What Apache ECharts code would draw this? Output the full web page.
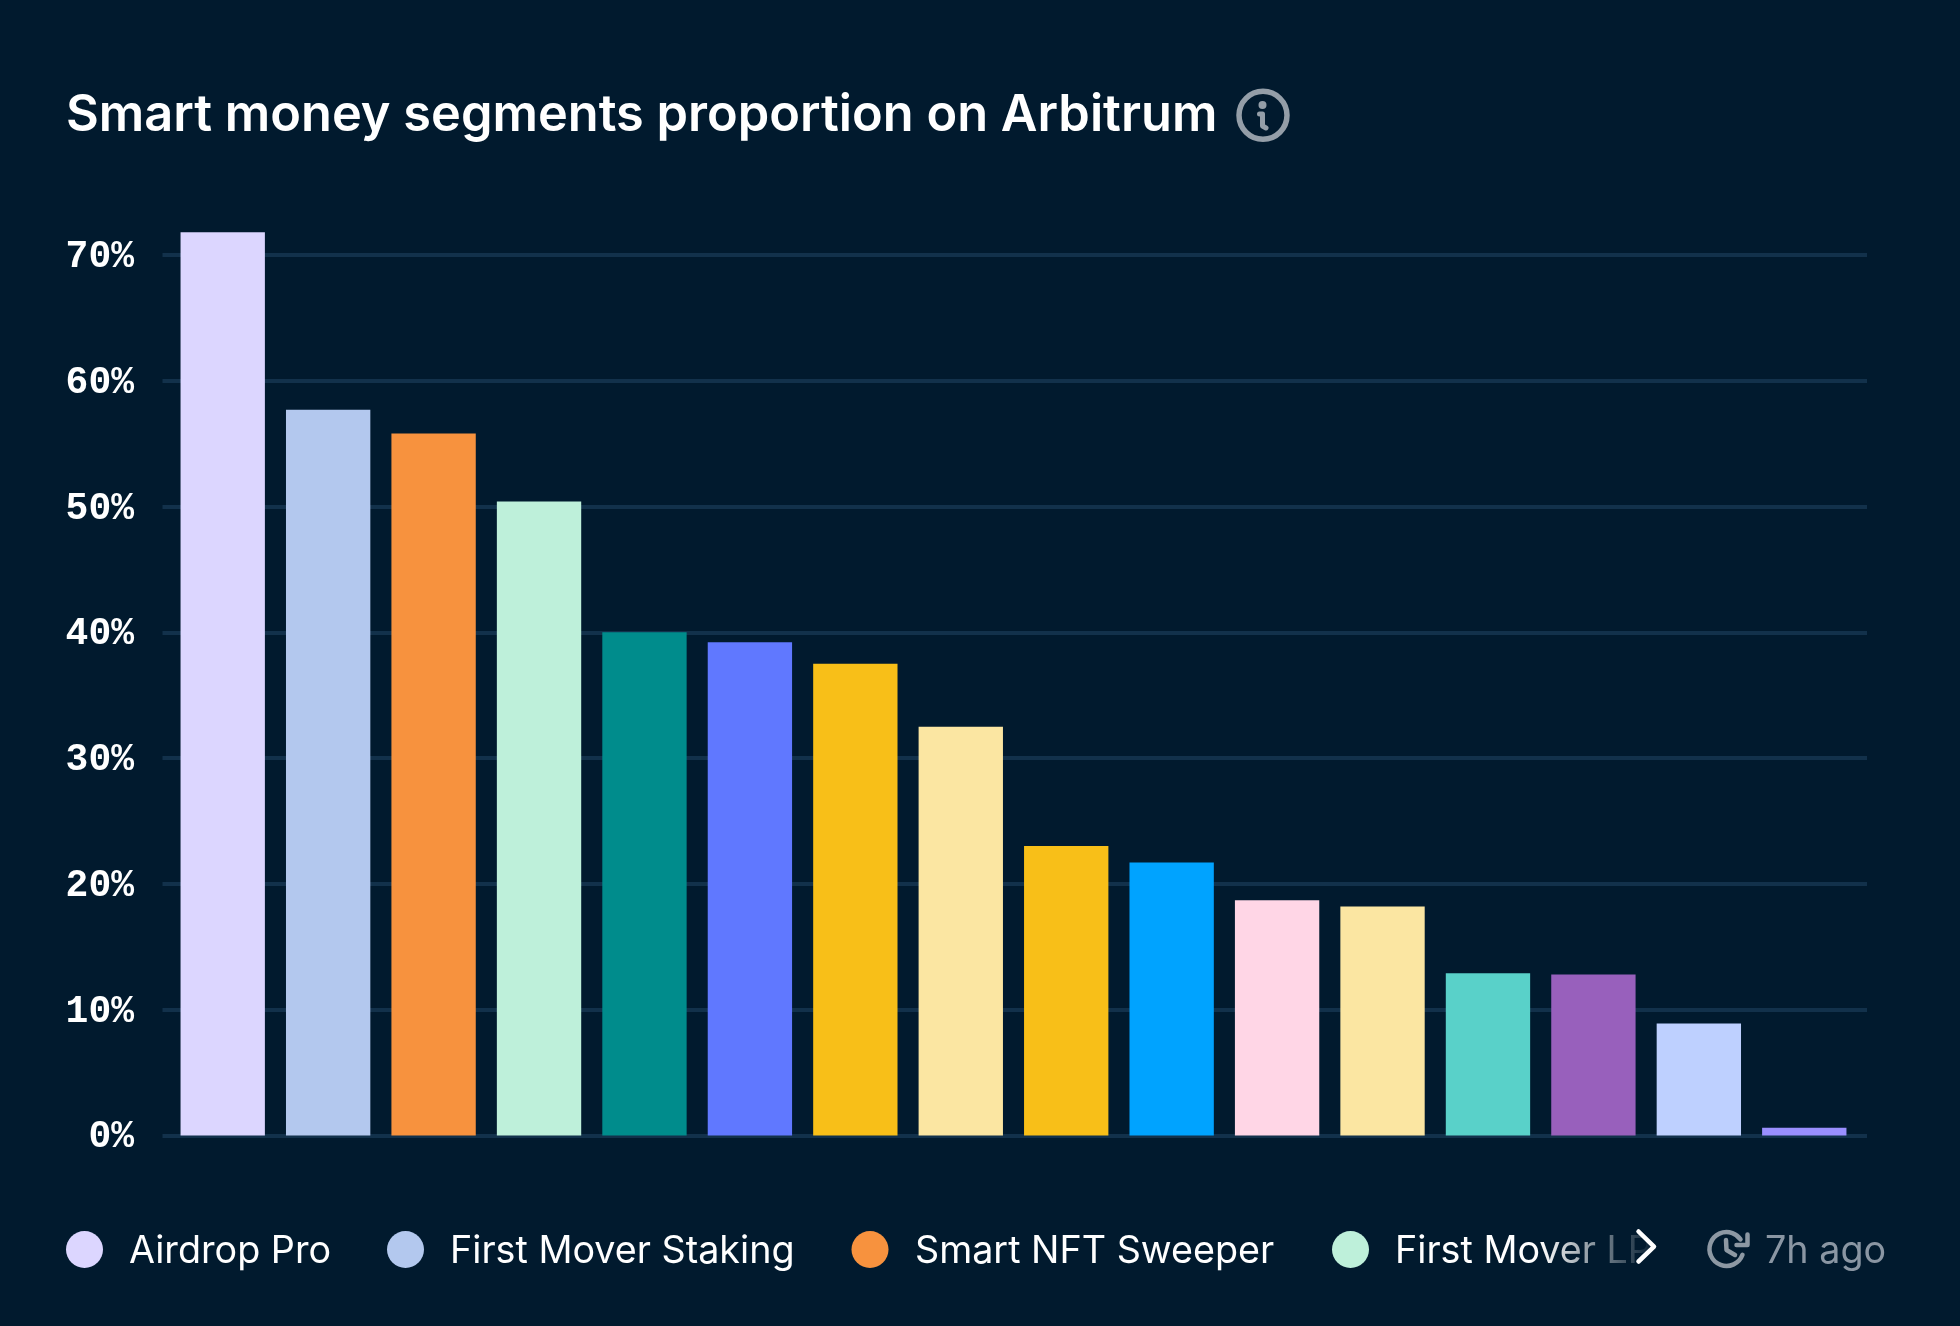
<!DOCTYPE html>
<html lang="en">
<head>
    <meta charset="UTF-8">
    <title>Smart money segments</title>
    <style>
        html, body { margin: 0; padding: 0; background: #011a2e; }
    </style>
</head>
<body>
<div id="main" style="width: 1960px;height: 1326px;"></div>
<script src="https://cdn.jsdelivr.net/npm/echarts@6/dist/echarts.min.js"></script>
<script type="text/javascript">
    // only the first four names can be read, the legend is cut off after that
    var categories = ['Airdrop Pro', 'First Mover Staking', 'Smart NFT Sweeper', 'First Mover LP',
        '#5', '#6', '#7', '#8', '#9', '#10', '#11', '#12', '#13', '#14', '#15', '#16'];
    var values = [71.8, 57.7, 55.8, 50.4, 40.0, 39.2, 37.5, 32.5, 23.0, 21.7, 18.7, 18.2, 12.9, 12.8, 8.9, 0.6];
    var barColors = ['#dcd6ff', '#b3c8ee', '#f7923e', '#bef0da', '#008c8c', '#6078ff', '#f8bf18', '#fbe6a2',
        '#f8bf18', '#00a3ff', '#ffd6e6', '#fbe6a2', '#59d1c9', '#9860bc', '#bed0ff', '#9a8fff'];
    var legendNames = categories.slice(0, 4);
    var legendCircleX = [84.5, 405.5, 870, 1350.5];
    var legendTextX = [129, 450, 915, 1395];

    var bg = '#011a2e';
    var gridTop = 129.2, gridHeight = 1006.2;
    var grey = '#8d98a3';

    var graphic = [];
    legendNames.forEach(function (name, i) {
        graphic.push({ type: 'circle', shape: { cx: legendCircleX[i], cy: 1249.5, r: 18.5 }, style: { fill: barColors[i] } });
        graphic.push({ type: 'text', x: legendTextX[i], y: 1252, style: {
            text: name, fill: '#ffffff', font: '400 37.7px Inter', textVerticalAlign: 'middle' } });
    });
    // legend fades out under the arrow
    graphic.push({ type: 'rect', z: 50, shape: { x: 1540, y: 1220, width: 115, height: 60 }, style: {
        fill: new echarts.graphic.LinearGradient(0, 0, 1, 0, [
            { offset: 0, color: 'rgba(1,26,46,0)' }, { offset: 1, color: 'rgba(1,26,46,1)' }]) } });
    graphic.push({ type: 'rect', z: 50, shape: { x: 1655, y: 1220, width: 305, height: 60 }, style: { fill: bg } });
    graphic.push({ type: 'polyline', z: 60, shape: { points: [[1638.5, 1231.5], [1654, 1246.7], [1638.5, 1261.5]] }, style: {
        fill: null, stroke: '#ffffff', lineWidth: 4.5, lineCap: 'round', lineJoin: 'round' } });
    // clock icon
    graphic.push({ type: 'arc', z: 60, shape: { cx: 1726.5, cy: 1249, r: 17, startAngle: 0.35, endAngle: 5.68 }, style: {
        fill: null, stroke: grey, lineWidth: 4.5, lineCap: 'round' } });
    graphic.push({ type: 'polyline', z: 60, shape: { points: [[1747.5, 1234.5], [1747.5, 1245], [1736.5, 1245]] }, style: {
        fill: null, stroke: grey, lineWidth: 4.5, lineCap: 'round', lineJoin: 'round' } });
    graphic.push({ type: 'polyline', z: 60, shape: { points: [[1726, 1240], [1726.5, 1250], [1735, 1255]] }, style: {
        fill: null, stroke: grey, lineWidth: 4.5, lineCap: 'round', lineJoin: 'round' } });
    graphic.push({ type: 'text', z: 60, x: 1765, y: 1252, style: {
        text: '7h ago', fill: '#8a96a3', font: '400 37.7px Inter', textVerticalAlign: 'middle' } });
    // info icon next to the title
    graphic.push({ type: 'circle', shape: { cx: 1263, cy: 115.3, r: 24 }, style: { fill: null, stroke: '#949ea8', lineWidth: 5.5 } });
    graphic.push({ type: 'circle', shape: { cx: 1262.5, cy: 105, r: 4 }, style: { fill: '#949ea8' } });
    graphic.push({ type: 'polyline', shape: { points: [[1259.5, 114], [1262.5, 114], [1262.5, 126], [1266, 128]] }, style: {
        fill: null, stroke: '#949ea8', lineWidth: 5, lineCap: 'round', lineJoin: 'round' } });

    var option = {
        backgroundColor: bg,
        animation: false,
        title: {
            text: 'Smart money segments proportion on Arbitrum',
            left: 66,
            top: 90,
            padding: 0,
            textStyle: { color: '#ffffff', fontFamily: 'Inter', fontWeight: 600, fontSize: 50.5 }
        },
        // first grid only carries the lines and labels, they stick out past the bars
        grid: [
            { left: 162.5, width: 1704.5, top: gridTop, height: gridHeight },
            { left: 170, width: 1687, top: gridTop, height: gridHeight }
        ],
        xAxis: [
            { type: 'category', gridIndex: 0, data: categories, show: false },
            { type: 'category', gridIndex: 1, data: categories, show: false }
        ],
        yAxis: [
            {
                type: 'value', gridIndex: 0, min: 0, max: 80, interval: 10,
                axisLine: { show: false },
                axisTick: { show: false },
                axisLabel: {
                    showMaxLabel: false,
                    margin: 28.5,
                    align: 'right',
                    formatter: '{a|{value}%}',
                    // padding on the rich token nudges the text down off the line
                    rich: {
                        a: {
                            padding: [5, 0, 0, 0],
                            color: '#ffffff',
                            fontFamily: 'Liberation Mono',
                            fontWeight: 'bold',
                            fontSize: 38
                        }
                    }
                },
                splitLine: { showMaxLine: false, lineStyle: { color: '#12314b', width: 4 } }
            },
            { type: 'value', gridIndex: 1, min: 0, max: 80, interval: 10, show: false, splitLine: { show: false } }
        ],
        series: [{
            type: 'bar',
            xAxisIndex: 1,
            yAxisIndex: 1,
            barWidth: '80%',
            data: values.map(function (v, i) {
                return { value: v, itemStyle: { color: barColors[i] } };
            })
        }],
        graphic: graphic
    };

    var myChart = echarts.init(document.getElementById('main'));
    myChart.setOption(option);
</script>
</body>
</html>
